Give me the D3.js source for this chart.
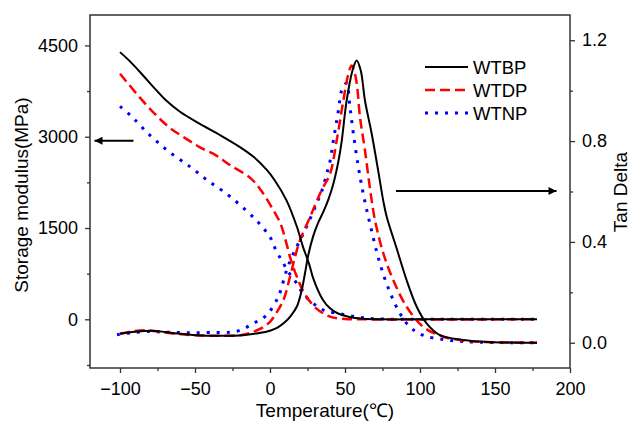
<!DOCTYPE html>
<html>
<head>
<meta charset="utf-8">
<script src="https://cdn.jsdelivr.net/npm/d3@7"></script>
<style>
  body { margin: 0; background: #fff; }
  text { font-family: Arial, "Liberation Sans", sans-serif; fill: #000; }
</style>
</head>
<body>
<svg id="chart"></svg>
<script>
let w = 630
let h = 423

// temperature (C) / storage modulus (MPa)
let bpStorage = [[-100,4390],[-93,4230],[-84,3990],[-76,3770],[-69,3590],[-60,3410],[-47,3215],[-33,3023],[-20,2830],[-11,2670],[-2,2450],[3,2290],[11,1955],[18,1516],[22,1190],[26,915],[29,660],[35,330],[40,180],[45,100],[53,38],[62,10],[75,0],[100,0],[178,0]]
let dpStorage = [[-100,4035],[-89,3708],[-78,3406],[-67,3150],[-56,2969],[-47,2830],[-36,2694],[-27,2540],[-13,2320],[-6,2119],[1,1845],[7,1572],[11,1243],[14,969],[18,695],[23,422],[31,176],[40,45],[50,5],[60,0],[178,0]]
let npStorage = [[-100,3500],[-93,3351],[-80,3023],[-67,2748],[-53,2502],[-42,2290],[-29,2064],[-16,1790],[-7,1572],[0,1352],[4,1134],[9,915],[13,750],[18,586],[22,422],[29,258],[36,148],[49,80],[62,25],[75,5],[100,0],[178,0]]

// temperature (C) / tan delta
let bpTan = [[-100,0.037],[-90,0.044],[-80,0.048],[-70,0.043],[-62,0.037],[-49,0.030],[-33,0.028],[-18,0.030],[-8,0.038],[0,0.048],[5,0.060],[10,0.082],[14,0.108],[18,0.145],[21,0.205],[23.3,0.275],[25.6,0.350],[28.9,0.425],[32,0.475],[35.6,0.520],[39,0.57],[42.2,0.63],[45.6,0.72],[47.8,0.80],[51.1,0.961],[55,1.08],[57.8,1.12],[60.5,1.08],[63.3,0.961],[67.8,0.829],[72.2,0.68],[75.6,0.56],[77.8,0.50],[84.4,0.375],[91.1,0.248],[97.8,0.143],[104.4,0.077],[113.3,0.030],[128.9,0.011],[145,0.003],[178,0]]
let dpTan = [[-100,0.035],[-92,0.045],[-83,0.05],[-75,0.045],[-65,0.037],[-50,0.030],[-35,0.028],[-20,0.030],[-11,0.044],[-5,0.06],[0,0.083],[2.2,0.10],[8.9,0.169],[13.3,0.261],[16.7,0.341],[20,0.407],[26.7,0.499],[34.4,0.605],[40,0.67],[44.4,0.80],[48.9,0.961],[52,1.06],[54.4,1.10],[56,1.08],[57.8,1.03],[60,0.895],[63.3,0.763],[66.7,0.61],[70,0.486],[75.6,0.354],[82.2,0.248],[91.1,0.143],[102.2,0.063],[115.6,0.024],[130,0.008],[150,0.002],[178,0]]
let npTan = [[-102,0.032],[-92,0.04],[-80,0.045],[-70,0.042],[-55,0.04],[-40,0.041],[-22,0.046],[-11,0.077],[-2.2,0.11],[4.4,0.169],[6.7,0.2],[11.1,0.288],[15.6,0.354],[22.2,0.433],[31.1,0.552],[34.4,0.60],[37.8,0.67],[40,0.72],[42.2,0.80],[45.6,0.921],[47.8,1.0],[51,1.03],[53.3,0.935],[55.6,0.829],[58.9,0.697],[62.2,0.59],[66.7,0.470],[73.3,0.314],[80,0.200],[86.7,0.116],[93.3,0.063],[102,0.03],[117.8,0.011],[135,0.003],[178,0]]

let seriesNames = ["WTBP", "WTDP", "WTNP"]
let colorArr = ["#000000", "#ff0000", "#0000ff"]
let dashArr = [null, "10,5", "3,7"]
let widthArr = [2, 2.5, 3]

let xTicks = [-100, -50, 0, 50, 100, 150, 200]
let leftTicks = [0, 1500, 3000, 4500]
let rightTicks = [0.0, 0.4, 0.8, 1.2]

let svg = d3.select('#chart')
  .attr('width', w)
  .attr('height', h)

let x = d3.scaleLinear().domain([-120, 200]).range([90, 570])
let yL = d3.scaleLinear().domain([-800, 5000]).range([368, 15])
let yR = d3.scaleLinear().domain([-0.1, 1.3]).range([368, 15])

// minor ticks
svg.append('g')
  .attr('transform', 'translate(0,368)')
  .call(d3.axisBottom(x).tickValues(d3.range(-75, 200, 50)).tickSize(3).tickFormat('').tickSizeOuter(0))
svg.append('g')
  .attr('transform', 'translate(90,0)')
  .call(d3.axisLeft(yL).tickValues([-750, 750, 2250, 3750]).tickSize(3).tickFormat('').tickSizeOuter(0))
svg.append('g')
  .attr('transform', 'translate(570,0)')
  .call(d3.axisRight(yR).tickValues([0.2, 0.6, 1.0]).tickSize(3).tickFormat('').tickSizeOuter(0))

// major ticks
svg.append('g')
  .attr('transform', 'translate(0,368)')
  .call(d3.axisBottom(x).tickValues(xTicks).tickSize(5).tickPadding(9).tickSizeOuter(0))
svg.append('g')
  .attr('transform', 'translate(90,0)')
  .call(d3.axisLeft(yL).tickValues(leftTicks).tickFormat(d3.format('d')).tickSize(5).tickPadding(7).tickSizeOuter(0))
svg.append('g')
  .attr('transform', 'translate(570,0)')
  .call(d3.axisRight(yR).tickValues(rightTicks).tickFormat(d3.format('.1f')).tickSize(5).tickPadding(7).tickSizeOuter(0))

svg.selectAll('.tick text').style('font-size', '18px').style('fill', '#000')
svg.selectAll('.domain').remove()
svg.selectAll('.tick line').attr('stroke', '#333').attr('stroke-width', 1.3)

// frame
svg.append('rect')
  .attr('x', 90).attr('y', 15)
  .attr('width', 480).attr('height', 353)
  .attr('fill', 'none')
  .attr('stroke', '#333')
  .attr('stroke-width', 1.5)

let lineL = d3.line().x(d => x(d[0])).y(d => yL(d[1])).curve(d3.curveCatmullRom.alpha(0.5))
let lineR = d3.line().x(d => x(d[0])).y(d => yR(d[1])).curve(d3.curveCatmullRom.alpha(0.5))

let storageArr = [bpStorage, dpStorage, npStorage]
let tanArr = [bpTan, dpTan, npTan]

// draw blue first, black on top
for (let i = 2; i >= 0; i--) {
  svg.append('path')
    .attr('d', lineL(storageArr[i]))
    .attr('fill', 'none')
    .attr('stroke', colorArr[i])
    .attr('stroke-width', widthArr[i])
    .attr('stroke-dasharray', dashArr[i])
  svg.append('path')
    .attr('d', lineR(tanArr[i]))
    .attr('fill', 'none')
    .attr('stroke', colorArr[i])
    .attr('stroke-width', widthArr[i])
    .attr('stroke-dasharray', dashArr[i])
}

// arrows
svg.append('defs').append('marker')
  .attr('id', 'head')
  .attr('viewBox', '0 0 10 10')
  .attr('refX', 10).attr('refY', 5)
  .attr('markerUnits', 'userSpaceOnUse')
  .attr('markerWidth', 12).attr('markerHeight', 8)
  .attr('orient', 'auto')
  .append('path')
  .attr('d', 'M0,0 L10,5 L0,10 Z')
  .attr('fill', '#000')

svg.append('line')
  .attr('x1', x(-91)).attr('y1', yL(2935))
  .attr('x2', x(-117)).attr('y2', yL(2935))
  .attr('stroke', '#000').attr('stroke-width', 2)
  .attr('marker-end', 'url(#head)')
svg.append('line')
  .attr('x1', x(84)).attr('y1', yR(0.602))
  .attr('x2', x(191)).attr('y2', yR(0.602))
  .attr('stroke', '#000').attr('stroke-width', 2)
  .attr('marker-end', 'url(#head)')

// legend
let legendY = [67, 90, 113]
let legend = svg.selectAll('.legend-item')
  .data(seriesNames)
  .join('g')
  .attr('class', 'legend-item')
  .attr('transform', (d, i) => 'translate(425,' + legendY[i] + ')')

legend.append('line')
  .attr('x1', 0).attr('x2', 43)
  .attr('stroke', (d, i) => colorArr[i])
  .attr('stroke-width', (d, i) => widthArr[i])
  .attr('stroke-dasharray', (d, i) => dashArr[i])

legend.append('text')
  .text(d => d)
  .attr('x', 48)
  .attr('y', 7)
  .style('font-size', '18.5px')

// axis titles
svg.append('text')
  .text('Temperature(℃)')
  .attr('x', 325).attr('y', 417)
  .attr('text-anchor', 'middle')
  .style('font-size', '19px')

svg.append('text')
  .text('Storage modulus(MPa)')
  .attr('transform', 'translate(28,195) rotate(-90)')
  .attr('text-anchor', 'middle')
  .style('font-size', '19px')

svg.append('text')
  .text('Tan Delta')
  .attr('transform', 'translate(627,192) rotate(-90)')
  .attr('text-anchor', 'middle')
  .style('font-size', '19px')
</script>
</body>
</html>
